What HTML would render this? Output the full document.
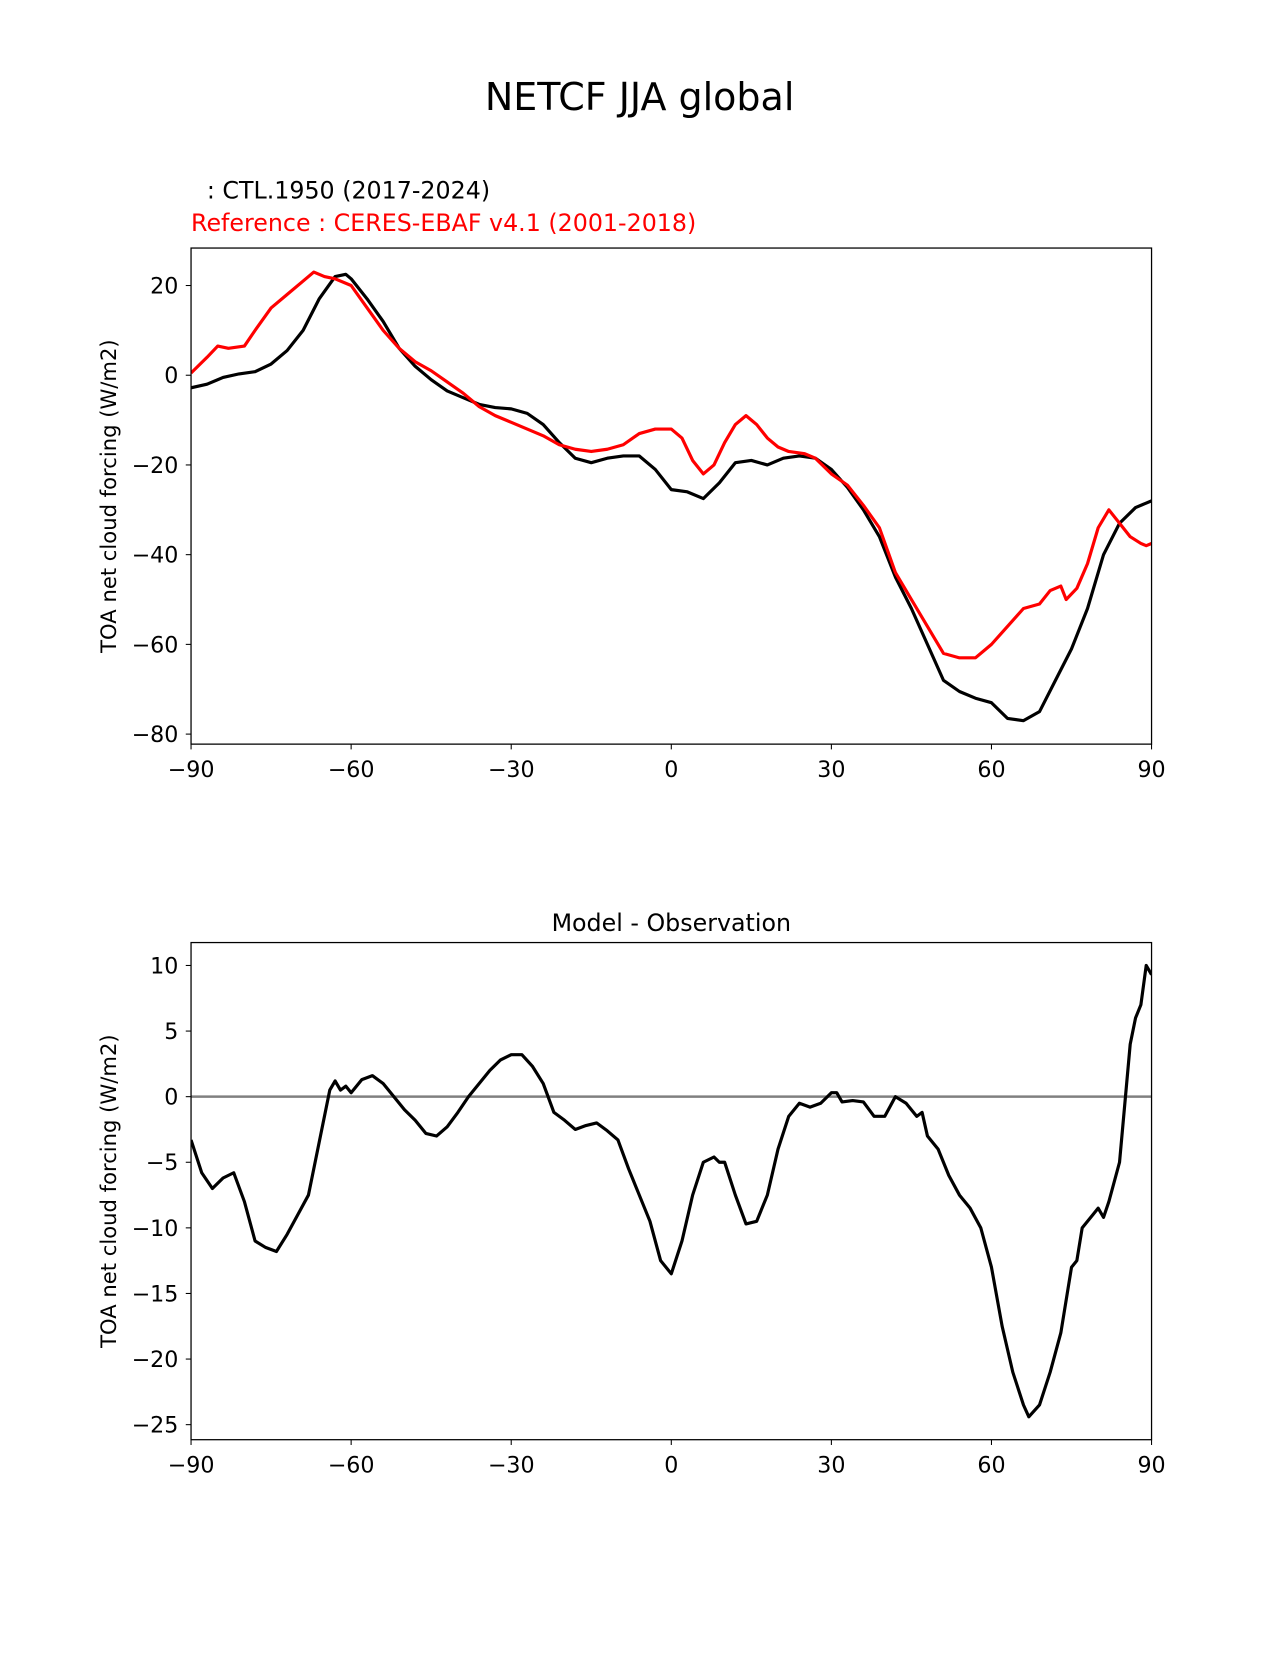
<!DOCTYPE html>
<html><head><meta charset="utf-8"><style>
body{margin:0;background:#fff;}
svg text{font-family:"DejaVu Sans","Liberation Sans",sans-serif;}
</style></head><body>
<svg id="fig" width="1275" height="1650" xmlns="http://www.w3.org/2000/svg">
<rect width="1275" height="1650" fill="#fff"/>
<g transform="scale(1.0555)">
<text x="606" y="104" font-size="36" text-anchor="middle">NETCF JJA global</text>
<text x="196" y="188" font-size="22.5">: CTL.1950 (2017-2024)</text>
<text x="181" y="219" font-size="22.5" fill="#f00">Reference : CERES-EBAF v4.1 (2001-2018)</text>
<text x="636" y="882" font-size="22.5" text-anchor="middle">Model - Observation</text>
<g id="top"></g>
<g id="bot"></g>
</g>
</svg>
<script>
const lats=[-90,-87,-84,-81,-78,-75,-72,-69,-66,-63,-61,-60,-57,-54,-51,-48,-45,-42,-39,-36,-33,-30,-27,-24,-21,-18,-15,-12,-9,-6,-3,0,3,6,9,12,15,18,21,24,27,30,33,36,39,42,45,48,51,54,57,60,63,66,69,72,75,78,81,84,87,90];
const modelVals=[-2.8,-2,-0.5,0.3,0.8,2.5,5.5,10,17,22,22.5,21.5,17,12,6,2,-1,-3.5,-5,-6.5,-7.2,-7.5,-8.5,-11,-15,-18.5,-19.5,-18.5,-18,-18,-21,-25.5,-26,-27.5,-24,-19.5,-19,-20,-18.5,-18,-18.5,-21,-25,-30,-36,-45,-52,-60,-68,-70.5,-72,-73,-76.5,-77,-75,-68,-61,-52,-40,-33,-29.5,-28];
const refLats=[-90,-87,-85,-83,-80,-78,-75,-72,-69,-67,-65,-63,-60,-57,-54,-51,-48,-45,-42,-39,-36,-33,-30,-27,-24,-21,-18,-15,-12,-9,-6,-3,0,2,4,6,8,10,12,14,16,18,20,22,25,27,30,33,36,39,42,45,48,51,54,57,60,63,66,69,71,73,74,76,78,80,82,84,86,88,89,90];
const refVals=[0.5,4,6.5,6,6.5,10,15,18,21,23,22,21.5,20,15,10,6,3,1,-1.5,-4,-7,-9,-10.5,-12,-13.5,-15.5,-16.5,-17,-16.5,-15.5,-13,-12,-12,-14,-19,-22,-20,-15,-11,-9,-11,-14,-16,-17,-17.5,-18.5,-22,-24.5,-29,-34,-44,-50,-56,-62,-63,-63,-60,-56,-52,-51,-48,-47,-50,-47.5,-42,-34,-30,-33,-36,-37.5,-38,-37.5];
const diffLats=[-90,-88,-86,-84,-82,-80,-78,-76,-74,-72,-70,-68,-66,-64,-63,-62,-61,-60,-58,-56,-54,-52,-50,-48,-46,-44,-42,-40,-38,-36,-34,-32,-30,-28,-26,-24,-22,-20,-18,-16,-14,-12,-10,-8,-6,-4,-2,0,2,4,6,8,9,10,12,14,16,18,20,22,24,26,28,30,31,32,34,36,38,40,42,44,46,47,48,50,52,54,56,58,60,62,64,66,67,69,71,73,75,76,77,79,80,81,82,84,86,87,88,89,90];
const diffVals=[-3.3,-5.8,-7,-6.2,-5.8,-8,-11,-11.5,-11.8,-10.5,-9,-7.5,-3.5,0.5,1.2,0.5,0.8,0.3,1.3,1.6,1,0,-1,-1.8,-2.8,-3,-2.3,-1.2,0,1,2,2.8,3.2,3.2,2.3,1,-1.2,-1.8,-2.5,-2.2,-2,-2.6,-3.3,-5.5,-7.5,-9.5,-12.5,-13.5,-11,-7.5,-5,-4.6,-5,-5,-7.5,-9.7,-9.5,-7.5,-4,-1.5,-0.5,-0.8,-0.5,0.3,0.3,-0.4,-0.3,-0.4,-1.5,-1.5,0,-0.5,-1.5,-1.2,-3,-4,-6,-7.5,-8.5,-10,-13,-17.5,-21,-23.5,-24.4,-23.5,-21,-18,-13,-12.5,-10,-9,-8.5,-9.2,-8,-5,4,6,7,10,9.3];
const xTicks=[-90,-60,-30,0,30,60,90];
const topYTicks=[20,0,-20,-40,-60,-80];
const botYTicks=[10,5,0,-5,-10,-15,-20,-25];
const NS='http://www.w3.org/2000/svg';
function mk(g,tag,attrs){const e=document.createElementNS(NS,tag);for(const k in attrs)e.setAttribute(k,attrs[k]);g.appendChild(e);return e;}
const X0=181,X1=1091;
const xs=v=>X0+(v+90)/180*(X1-X0);
function axes(g,top,bot,ys,yticks,name){
  for(const t of xTicks){
    const l=mk(g,'line',{x1:xs(t),x2:xs(t),y1:bot,y2:bot+5,stroke:'#000'});
    
    
    const tx=mk(g,'text',{x:xs(t),y:bot+31,'font-size':21,'text-anchor':'middle'});
    tx.textContent=(t<0?'\u2212'+(-t):t);
    
    
  }
  for(const t of yticks){
    const l=mk(g,'line',{x1:X0-5,x2:X0,y1:ys(t),y2:ys(t),stroke:'#000'});
    
    
    const tx=mk(g,'text',{x:X0-12,y:ys(t)+7.5,'font-size':21,'text-anchor':'end'});
    tx.textContent=(t<0?'\u2212'+(-t):t);
    
    
  }
  const yl=mk(g,'text',{x:0,y:0,'font-size':20,'text-anchor':'middle',transform:`translate(110,${(top+bot)/2}) rotate(-90)`});
  yl.textContent='TOA net cloud forcing (W/m2)';
  
  
}
function line(g,la,va,ys,color,name){
  const p=mk(g,'polyline',{points:la.map((v,i)=>xs(v)+','+ys(va[i])).join(' '),fill:'none',stroke:color,'stroke-width':3,'stroke-linejoin':'round'});
  
  
}
const gt=document.getElementById('top');
const yT=v=>355.5-v*4.25;
const cp=mk(gt,'clipPath',{id:'c1'});mk(cp,'rect',{x:X0,y:235,width:X1-X0,height:470});
axes(gt,235,705,yT,topYTicks,'top');
const gtc=mk(gt,'g',{'clip-path':'url(#c1)'});
line(gtc,lats,modelVals,yT,'#000','model-line');
line(gtc,refLats,refVals,yT,'#f00','reference-line');
const f1=mk(gt,'rect',{x:X0,y:235,width:X1-X0,height:470,fill:'none',stroke:'#000','stroke-width':1.2});


const gb=document.getElementById('bot');
const yB=v=>1039-v*12.43;
const cp2=mk(gb,'clipPath',{id:'c2'});mk(cp2,'rect',{x:X0,y:893,width:X1-X0,height:471});
axes(gb,893,1364,yB,botYTicks,'bottom');
const z=mk(gb,'line',{x1:X0,x2:X1,y1:yB(0),y2:yB(0),stroke:'#808080','stroke-width':2.4});


const gbc=mk(gb,'g',{'clip-path':'url(#c2)'});
line(gbc,diffLats,diffVals,yB,'#000','difference-line');
const f2=mk(gb,'rect',{x:X0,y:893,width:X1-X0,height:471,fill:'none',stroke:'#000','stroke-width':1.2});


</script>
</body></html>
